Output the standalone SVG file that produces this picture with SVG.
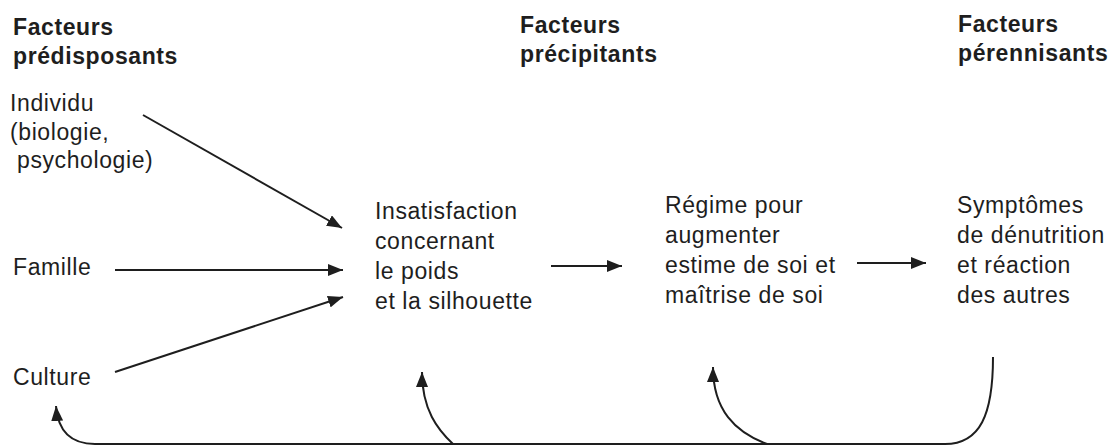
<svg xmlns="http://www.w3.org/2000/svg" width="1114" height="446" viewBox="0 0 1114 446">
<defs>
<style>
.h{font-family:"Liberation Sans",Arial,sans-serif;font-weight:bold;font-size:23px;letter-spacing:0.6px;fill:#1e1e1e}
.t{font-family:"Liberation Sans",Arial,sans-serif;font-size:23px;letter-spacing:0.6px;fill:#1e1e1e}
.c{fill:none;stroke:#1e1e1e;stroke-width:2}
</style>
<marker id="ah" markerUnits="userSpaceOnUse" markerWidth="16" markerHeight="12" refX="15" refY="6" orient="auto">
<path d="M0,0 L15,6 L0,12 z" fill="#1e1e1e"/>
</marker>
</defs>
<rect width="1114" height="446" fill="#ffffff"/>
<g id="headings">
<text class="h" x="13" y="35">Facteurs</text>
<text class="h" x="13" y="64">prédisposants</text>
<text class="h" x="520" y="33">Facteurs</text>
<text class="h" x="520" y="62">précipitants</text>
<text class="h" x="958" y="32">Facteurs</text>
<text class="h" x="958" y="61">pérennisants</text>
</g>
<g id="individu">
<text class="t" x="10" y="111">Individu</text>
<text class="t" x="10" y="140">(biologie,</text>
<text class="t" x="17" y="168">psychologie)</text>
</g>
<g id="famille"><text class="t" x="13" y="275">Famille</text></g>
<g id="culture"><text class="t" x="13" y="385">Culture</text></g>
<g id="insatisfaction">
<text class="t" x="375" y="219">Insatisfaction</text>
<text class="t" x="375" y="249">concernant</text>
<text class="t" x="375" y="279">le poids</text>
<text class="t" x="375" y="309">et la silhouette</text>
</g>
<g id="regime">
<text class="t" x="665" y="213">Régime pour</text>
<text class="t" x="665" y="243">augmenter</text>
<text class="t" x="665" y="273">estime de soi et</text>
<text class="t" x="665" y="303">maîtrise de soi</text>
</g>
<g id="symptomes">
<text class="t" x="957" y="213">Symptômes</text>
<text class="t" x="957" y="243">de dénutrition</text>
<text class="t" x="957" y="273">et réaction</text>
<text class="t" x="957" y="303">des autres</text>
</g>
<g id="connectors">
<line class="c" x1="143" y1="115" x2="342" y2="228" marker-end="url(#ah)"/>
<line class="c" x1="115" y1="270" x2="343" y2="270" marker-end="url(#ah)"/>
<line class="c" x1="115" y1="372" x2="343" y2="297" marker-end="url(#ah)"/>
<line class="c" x1="551" y1="266" x2="622" y2="266" marker-end="url(#ah)"/>
<line class="c" x1="857" y1="263" x2="926" y2="263" marker-end="url(#ah)"/>
<path class="c" d="M993,357 C993,415 980,444 945,444 L95,444 C72,444 58,432 56,406" marker-end="url(#ah)"/>
<path class="c" d="M453,444 C438,430 422,410 422,372" marker-end="url(#ah)"/>
<path class="c" d="M767,444 C735,432 713,410 713,367" marker-end="url(#ah)"/>
</g>
</svg>
